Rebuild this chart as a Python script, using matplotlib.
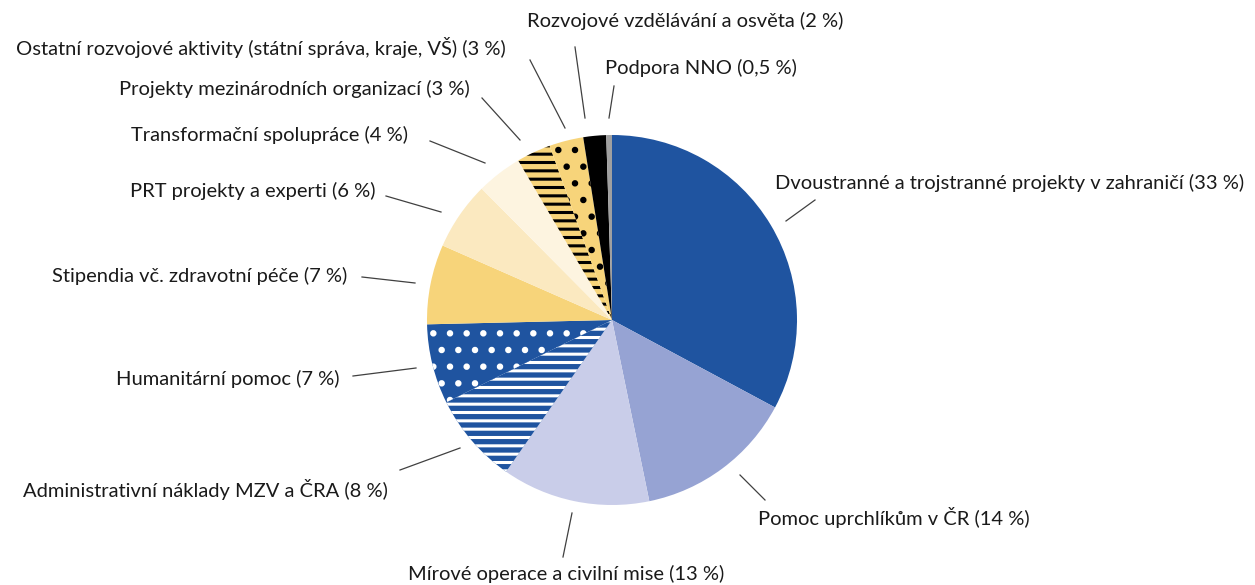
import matplotlib.pyplot as plt

plt.rcParams['font.family'] = ['Lato', 'DejaVu Sans']
plt.rcParams['hatch.linewidth'] = 2.2

# data, clockwise from the top
labels = [
    'Dvoustranné a trojstranné projekty v zahraničí (33 %)',
    'Pomoc uprchlíkům v ČR (14 %)',
    'Mírové operace a civilní mise (13 %)',
    'Administrativní náklady MZV a ČRA (8 %)',
    'Humanitární pomoc (7 %)',
    'Stipendia vč. zdravotní péče (7 %)',
    'PRT projekty a experti (6 %)',
    'Transformační spolupráce (4 %)',
    'Projekty mezinárodních organizací (3 %)',
    'Ostatní rozvojové aktivity (státní správa, kraje, VŠ) (3 %)',
    'Rozvojové vzdělávání a osvěta (2 %)',
    'Podpora NNO (0,5 %)',
]
shares = [33, 14, 13, 8, 7, 7, 6, 4, 3, 3, 2, 0.5]

colors = ['#1f54a0', '#96a3d3', '#c9cde9', '#1f54a0', '#1f54a0', '#f7d47a',
          '#fbe9c0', '#fdf4e0', '#f7d47a', '#f7d47a', '#000000', '#a0a0a0']
hatches = [None, None, None, '--', '.', None, None, None, '--', '.', None, None]
hatch_col = ['none', 'none', 'none', 'white', 'white', 'none', 'none', 'none',
             'black', 'black', 'none', 'none']

# label placement in pixels (x, y, alignment)
label_pos = [(775, 183, 'left'), (758, 518, 'left'), (566, 574, 'center'),
             (388, 490, 'right'), (340, 379, 'right'), (347, 276, 'right'),
             (375, 191, 'right'), (408, 135, 'right'), (470, 89, 'right'),
             (506, 47, 'right'), (527, 21, 'left'), (605, 68, 'left')]
leaders = [((786, 221), (815, 200)), ((740, 475), (765, 500)),
           ((572, 513), (563, 557)), ((460, 448), (400, 470)),
           ((416, 368), (353, 376)), ((415, 283), (362, 277)),
           ((441, 212), (386, 196)), ((485, 163), (430, 141)),
           ((520, 140), (482, 98)), ((565, 128), (530, 60)),
           ((585, 118), (575, 47)), ((609, 118), (614, 86))]

fig = plt.figure(figsize=(12.55, 5.85), dpi=100)
ax = fig.add_axes([0, 0, 1, 1])

# y axis runs downwards, so the angles are mirrored: start at -90, counterclock
wedges, _ = ax.pie(shares, colors=colors, startangle=-90, counterclock=True,
                   center=(612, 320), radius=185, frame=True,
                   wedgeprops=dict(linewidth=0))
for w, h, hc in zip(wedges, hatches, hatch_col):
    if h:
        w.set_edgecolor(hc)
        w.set_hatch(h)
        w.set_linewidth(0)

ax.set_xlim(0, 1255)
ax.set_ylim(585, 0)
ax.set_aspect('equal')
ax.axis('off')

for (x, y, ha), txt in zip(label_pos, labels):
    ax.text(x, y, txt, ha=ha, va='center', fontsize=14.5, color='#1a1a1a')

for (p1, p2) in leaders:
    ax.plot([p1[0], p2[0]], [p1[1], p2[1]], color='#404040', lw=0.9)

fig.savefig('out.png', dpi=100)
